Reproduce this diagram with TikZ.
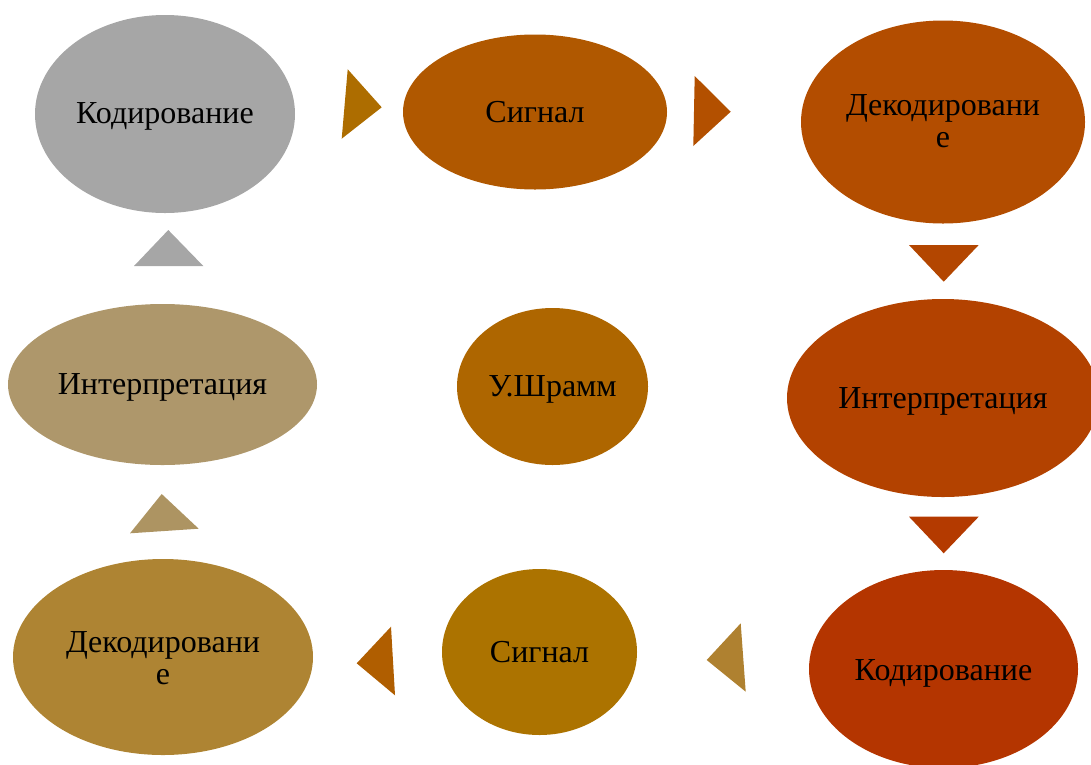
\documentclass[tikz,border=0pt]{standalone}
\usepackage{fontspec}
\setmainfont{Liberation Serif}
\usetikzlibrary{shapes.geometric}
\definecolor{cGray}{HTML}{A6A6A6}
\definecolor{cSigA}{HTML}{B05800}
\definecolor{cDecA}{HTML}{B34D00}
\definecolor{cIntA}{HTML}{B34200}
\definecolor{cCodB}{HTML}{B43500}
\definecolor{cSigB}{HTML}{AC7300}
\definecolor{cDecB}{HTML}{AE8433}
\definecolor{cIntB}{HTML}{AE976B}
\definecolor{cMid}{HTML}{AE6600}
\definecolor{tA}{HTML}{AD6D00}
\definecolor{tB}{HTML}{B35000}
\definecolor{tC}{HTML}{B34600}
\definecolor{tD}{HTML}{B43A00}
\definecolor{tE}{HTML}{AF8130}
\definecolor{tF}{HTML}{B05E00}
\definecolor{tG}{HTML}{AD9462}
\definecolor{tH}{HTML}{A6A6A6}
\begin{document}
\begin{tikzpicture}[x=1pt,y=-1pt,
  stage/.style={ellipse,inner sep=0pt,draw=none},
  caption/.style={inner sep=0pt,anchor=base,text=black,align=center,
    font=\fontsize{32}{31.5}\selectfont}]
\useasboundingbox (0,0) rectangle (1091,764);
\clip (0,0) rectangle (1091,764);
% stages of the communication cycle
\node[stage,fill=cGray,minimum width=260pt,minimum height=198pt] (cod1) at (165,114) {};
\node[stage,fill=cSigA,minimum width=264pt,minimum height=155pt] (sig1) at (535,112) {};
\node[stage,fill=cDecA,minimum width=284pt,minimum height=203pt] (dec1) at (943,122) {};
\node[stage,fill=cIntA,minimum width=312pt,minimum height=198pt] (int1) at (943,398) {};
\node[stage,fill=cCodB,minimum width=269pt,minimum height=198pt] (cod2) at (943.5,669) {};
\node[stage,fill=cSigB,minimum width=195pt,minimum height=166pt] (sig2) at (539.5,652) {};
\node[stage,fill=cDecB,minimum width=300pt,minimum height=196pt] (dec2) at (163,657) {};
\node[stage,fill=cIntB,minimum width=309pt,minimum height=161pt] (int2) at (162.5,384.5) {};
\node[stage,fill=cMid,minimum width=191pt,minimum height=157pt] (mid) at (552.5,386.5) {};
% captions, set on their baselines
\node[caption] (cod1t) at ([yshift=-9pt]cod1.center) {Кодирование};
\node[caption] (sig1t) at ([yshift=-10pt]sig1.center) {Сигнал};
\node[caption] (dec1t) at ([yshift=-25pt]dec1.center) {Декодировани\\е};
\node[caption] (int1t) at ([yshift=-10pt]int1.center) {Интерпретация};
\node[caption] (cod2t) at ([yshift=-11pt]cod2.center) {Кодирование};
\node[caption] (sig2t) at ([yshift=-10pt]sig2.center) {Сигнал};
\node[caption] (dec2t) at ([yshift=-27pt]dec2.center) {Декодировани\\е};
\node[caption] (int2t) at ([yshift=-9.5pt]int2.center) {Интерпретация};
\node[caption] (midt) at ([yshift=-9.5pt]mid.center) {У.Шрамм};
% direction markers between stages
\fill[tA] (347.7,69.3) -- (381.7,107.3) -- (341.7,138.7) -- cycle;
\fill[tB] (694.7,76) -- (730.7,111.7) -- (693.3,146) -- cycle;
\fill[tC] (909,245) -- (978.7,245) -- (943.7,281.7) -- cycle;
\fill[tD] (909,516.7) -- (978.7,516.7) -- (943.7,553.3) -- cycle;
\fill[tE] (740.7,623.3) -- (706.7,660) -- (745.7,691.7) -- cycle;
\fill[tF] (391,626.7) -- (356.7,663.3) -- (395,695.3) -- cycle;
\fill[tG] (161.7,494) -- (130,533.3) -- (198.7,528.7) -- cycle;
\fill[tH] (168.3,230) -- (134,266) -- (203.3,266) -- cycle;
\end{tikzpicture}
\end{document}
